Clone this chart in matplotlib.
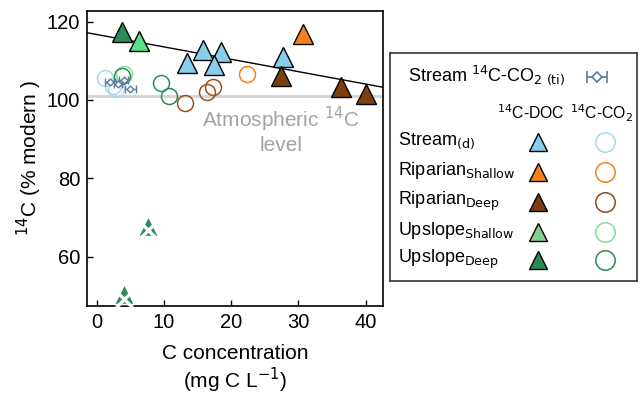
import matplotlib.pyplot as plt
import numpy as np

plt.rcParams['font.family'] = ['Liberation Sans', 'DejaVu Sans']

# --- DOC (triangles) ---
stream_doc_x = [13.5, 15.8, 18.5, 17.5, 27.7]
stream_doc_y = [109.4, 112.8, 112.2, 108.8, 110.9]
rip_sh_doc_x = [30.7]
rip_sh_doc_y = [116.9]
rip_dp_doc_x = [27.4, 36.4, 40.1]
rip_dp_doc_y = [106.0, 103.2, 101.5]
up_sh_doc_x = [6.3]
up_sh_doc_y = [115.1]
up_dp_doc_x = [3.7, 7.6, 4.1]
up_dp_doc_y = [117.3, 67.9, 50.5]
up_dp_flagged = [False, True, True]

# --- CO2 (circles) ---
stream_co2_x = [1.3, 2.4, 2.8]
stream_co2_y = [105.6, 103.6, 102.8]
rip_sh_co2_x = [22.4]
rip_sh_co2_y = [106.6]
rip_dp_co2_x = [13.1, 16.4, 17.3]
rip_dp_co2_y = [99.1, 101.9, 103.2]
up_sh_co2_x = [4.0]
up_sh_co2_y = [106.7]
up_dp_co2_x = [3.8, 9.5, 10.7]
up_dp_co2_y = [106.0, 104.4, 101.1]

# --- stream CO2 (ti) ---
ti_x = [1.9, 3.1, 4.0, 5.0]
ti_y = [104.7, 104.1, 105.1, 102.8]
ti_xerr = [0.6, 0.6, 0.7, 0.8]

# regression and atmospheric level
fit_intercept = 116.7
fit_slope = -0.316
atm_level = 101.0

c_stream, c_stream_o = '#88cdea', '#a9d9f2'
c_rsh = '#f7821b'
c_rdp = '#7f3f0c'
c_ush, c_ush_o = '#58e184', '#7fe39d'
c_udp = '#2e8b57'
c_ti = '#5b7c9c'

fig = plt.figure(figsize=(6.43, 3.96), dpi=100)
ax = fig.add_axes([87 / 643, 1 - 306 / 396, 296 / 643, 295 / 396])
ax.set_xlim(-1.45, 42.6)
ax.set_ylim(47.4, 122.7)

ax.axhline(atm_level, color='#d4d4d4', lw=2, zorder=1)
xl = np.array(ax.get_xlim())
ax.plot(xl, fit_intercept + fit_slope * xl, color='black', lw=1, zorder=2)

ms_c = 11.5
for xs, ys, col in [(stream_co2_x, stream_co2_y, c_stream_o), (rip_sh_co2_x, rip_sh_co2_y, c_rsh),
                    (rip_dp_co2_x, rip_dp_co2_y, '#9a5220'), (up_sh_co2_x, up_sh_co2_y, c_ush_o),
                    (up_dp_co2_x, up_dp_co2_y, c_udp)]:
    ax.plot(xs, ys, 'o', ms=ms_c, mfc='none', mec=col, mew=1.1, zorder=3)

ax.errorbar(ti_x, ti_y, xerr=ti_xerr, fmt='D', ms=3.5, mfc='white', mec=c_ti, ecolor=c_ti,
            elinewidth=1, capsize=3, mew=1, zorder=4)

ms_t = 14
for xs, ys, col in [(stream_doc_x, stream_doc_y, c_stream), (rip_sh_doc_x, rip_sh_doc_y, c_rsh),
                    (rip_dp_doc_x, rip_dp_doc_y, c_rdp), (up_sh_doc_x, up_sh_doc_y, c_ush)]:
    ax.plot(xs, ys, '^', ms=ms_t, mfc=col, mec='black', mew=1, zorder=5)
for x, y, flag in zip(up_dp_doc_x, up_dp_doc_y, up_dp_flagged):
    if flag:
        ax.plot(x, y, '^', ms=ms_t, mfc=c_udp, mec='white', mew=1, zorder=5)
        ax.plot(x, y - 1.2, 'x', ms=11, mec='white', mew=2.4, zorder=6)
    else:
        ax.plot(x, y, '^', ms=ms_t, mfc=c_udp, mec='black', mew=1, zorder=5)

ax.text(27.4, 92.4, 'Atmospheric $^{14}$C\nlevel', color='#a3a3a3', fontsize=15,
        ha='center', va='center', multialignment='center', linespacing=1.15, zorder=2)

ax.set_xticks([0, 10, 20, 30, 40])
ax.set_yticks([60, 80, 100, 120])
ax.tick_params(direction='in', labelsize=14.5, length=4, width=1, pad=5)
for s in ax.spines.values():
    s.set_linewidth(1.2)
ax.set_xlabel('C concentration\n(mg C L$^{-1}$)', fontsize=15, labelpad=9, linespacing=1.1)
ax.set_ylabel('$^{14}$C (% modern )', fontsize=15, labelpad=2)

# --- legend panel (pixel coordinates) ---
lg = fig.add_axes([390 / 643, 1 - 281 / 396, 247 / 643, 228 / 396])
lg.set_xlim(0, 247)
lg.set_ylim(228, 0)
lg.set_xticks([])
lg.set_yticks([])
for s in lg.spines.values():
    s.set_linewidth(1.2)
    s.set_color('#333333')

lg.text(18, 22, 'Stream $^{14}$C-CO$_{2\\ (\\mathrm{ti})}$', fontsize=13, va='center')
lg.errorbar([207], [24], xerr=[10], fmt='D', ms=5, mfc='white', mec=c_ti, ecolor=c_ti,
            elinewidth=1.2, capsize=4, mew=1.2)
lg.text(141, 60, '$^{14}$C-DOC', fontsize=11.3, ha='center', va='center')
lg.text(211, 60, '$^{14}$C-CO$_2$', fontsize=11.3, ha='center', va='center')

row_labels = ['Stream$_{\\mathrm{(d)}}$', 'Riparian$_{\\mathrm{Shallow}}$', 'Riparian$_{\\mathrm{Deep}}$',
              'Upslope$_{\\mathrm{Shallow}}$', 'Upslope$_{\\mathrm{Deep}}$']
tri_cols = [c_stream, c_rsh, '#7a3d14', '#82cf8e', c_udp]
circ_cols = ['#a6d8f0', c_rsh, '#8a4a1e', '#8ed69a', c_udp]
row_y = [88, 118, 148, 178, 206]
for lab, ty, tc, cc in zip(row_labels, row_y, tri_cols, circ_cols):
    lg.text(8, ty, lab, fontsize=13, va='center')
    lg.plot([148], [ty + 1], '^', ms=13, mfc=tc, mec='black', mew=1)
    lg.plot([215], [ty + 1], 'o', ms=14, mfc='none', mec=cc, mew=1.1)

fig.savefig('out.png', dpi=100)
